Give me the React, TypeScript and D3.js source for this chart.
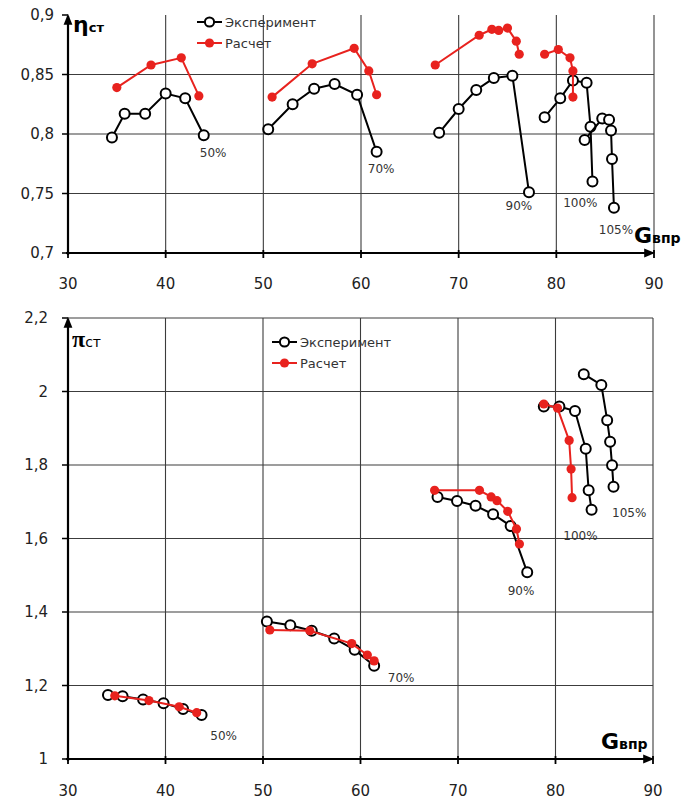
import React from 'react';
import * as d3 from 'd3';

type P = [number, number];

// ---------- tick values ----------
const xTicks = [30, 40, 50, 60, 70, 80, 90];
const etaTicks = [0.7, 0.75, 0.8, 0.85, 0.9];
const piTicks = [1, 1.2, 1.4, 1.6, 1.8, 2, 2.2];

// ---------- efficiency (η ст) vs G впр ----------
const etaExp50: P[] = [[34.5, 0.797], [35.8, 0.817], [37.9, 0.817], [40.0, 0.834], [42.0, 0.830], [43.9, 0.799]];
const etaCalc50: P[] = [[35.0, 0.839], [38.5, 0.858], [41.6, 0.864], [43.4, 0.832]];
const etaExp70: P[] = [[50.5, 0.804], [53.0, 0.825], [55.2, 0.838], [57.3, 0.842], [59.6, 0.833], [61.6, 0.785]];
const etaCalc70: P[] = [[50.9, 0.831], [55.0, 0.859], [59.3, 0.872], [60.8, 0.853], [61.6, 0.833]];
const etaExp90: P[] = [[68.0, 0.801], [70.0, 0.821], [71.8, 0.837], [73.6, 0.847], [75.5, 0.849], [77.2, 0.751]];
const etaCalc90: P[] = [[67.6, 0.858], [72.1, 0.883], [73.4, 0.888], [74.1, 0.887], [75.0, 0.889], [75.9, 0.878], [76.2, 0.867]];
const etaExp100: P[] = [[78.8, 0.814], [80.4, 0.830], [81.7, 0.845], [83.1, 0.843], [83.5, 0.806], [83.7, 0.760]];
const etaCalc100: P[] = [[78.8, 0.867], [80.2, 0.871], [81.4, 0.864], [81.7, 0.853], [81.7, 0.831]];
const etaExp105: P[] = [[82.9, 0.795], [84.7, 0.813], [85.4, 0.812], [85.6, 0.803], [85.7, 0.779], [85.9, 0.738]];

// ---------- pressure ratio (π ст) vs G впр ----------
const piExp50: P[] = [[34.1, 1.174], [35.6, 1.171], [37.7, 1.162], [39.8, 1.152], [41.8, 1.136], [43.7, 1.120]];
const piCalc50: P[] = [[34.8, 1.172], [38.3, 1.159], [41.4, 1.142], [43.2, 1.126]];
const piExp70: P[] = [[50.4, 1.374], [52.8, 1.364], [55.0, 1.349], [57.3, 1.328], [59.4, 1.297], [61.4, 1.254]];
const piCalc70: P[] = [[50.7, 1.351], [54.8, 1.349], [59.1, 1.314], [60.7, 1.283], [61.4, 1.267]];
const piExp90: P[] = [[67.9, 1.713], [69.9, 1.702], [71.8, 1.689], [73.6, 1.666], [75.4, 1.634], [77.1, 1.508]];
const piCalc90: P[] = [[67.6, 1.731], [72.2, 1.731], [73.4, 1.713], [74.0, 1.703], [75.1, 1.674], [76.0, 1.626], [76.3, 1.585]];
const piExp100: P[] = [[78.8, 1.959], [80.4, 1.959], [82.0, 1.947], [83.1, 1.844], [83.4, 1.731], [83.7, 1.678]];
const piCalc100: P[] = [[78.8, 1.966], [80.2, 1.955], [81.4, 1.867], [81.6, 1.789], [81.7, 1.711]];
const piExp105: P[] = [[82.9, 2.047], [84.7, 2.018], [85.3, 1.922], [85.6, 1.863], [85.8, 1.799], [85.95, 1.741]];

// ---------- speed-line labels (anchor in data units) ----------
const speedNames = ['50%', '70%', '90%', '100%', '105%'];
const etaLabelAt: P[] = [[43.5, 0.781], [60.7, 0.767], [74.8, 0.736], [80.7, 0.739], [84.35, 0.716]];
const piLabelAt: P[] = [[44.6, 1.052], [62.8, 1.21], [75.1, 1.446], [80.8, 1.596], [85.8, 1.659]];

const legendNames = ['Эксперимент', 'Расчет'];

const RED = '#e8221e';
const GRID = '#3c3c3c';
const FONT = "'DejaVu Sans', sans-serif";

const fmt = (v: number) => String(v).replace('.', ',');

type PanelProps = {
  x: d3.ScaleLinear<number, number>;
  y: d3.ScaleLinear<number, number>;
  yTicks: number[];
  gridY: number[];
  exp: P[][];
  calc: P[][];
  labelAt: P[];
  legend: [number, number];
  xLabelBaseline: number;
  yLabelRight: number;
  yTitle: React.ReactNode;
  xTitle: React.ReactNode;
};

function Panel(props: PanelProps) {
  const { x, y, yTicks, gridY, exp, calc, labelAt, legend, xLabelBaseline, yLabelRight, yTitle, xTitle } = props;
  const [x0, x1] = x.range();
  const [yb, yt] = y.range();
  const line = d3.line<P>().x(d => x(d[0])).y(d => y(d[1]));
  return (
    <g>
      {/* grid */}
      {gridY.map(v => (
        <line key={'gy' + v} x1={x0} x2={x1} y1={y(v)} y2={y(v)} stroke={GRID} strokeWidth={1.1} />
      ))}
      {xTicks.slice(1).map(v => (
        <line key={'gx' + v} x1={x(v)} x2={x(v)} y1={yt} y2={yb} stroke={GRID} strokeWidth={1.1} />
      ))}
      {/* axes */}
      <line x1={x0} x2={x0} y1={yb + 2} y2={yt + 1} stroke="#000" strokeWidth={2.2} markerEnd="url(#arrow)" />
      <line x1={x0 - 2} x2={x1 - 1} y1={yb} y2={yb} stroke="#000" strokeWidth={2.2} markerEnd="url(#arrow)" />
      {xTicks.map(v => (
        <line key={'tx' + v} x1={x(v)} x2={x(v)} y1={yb - 3} y2={yb + 5} stroke="#000" strokeWidth={1.8} />
      ))}
      {yTicks.map(v => (
        <line key={'ty' + v} x1={x0 - 6} x2={x0} y1={y(v)} y2={y(v)} stroke="#000" strokeWidth={1.5} />
      ))}
      {/* tick labels */}
      {xTicks.map(v => (
        <text key={'lx' + v} x={x(v)} y={xLabelBaseline} textAnchor="middle" fontFamily={FONT} fontSize={15} fill="#222">{v}</text>
      ))}
      {yTicks.map(v => (
        <text key={'ly' + v} x={yLabelRight} y={y(v) + 5} textAnchor="end" fontFamily={FONT} fontSize={15} fill="#222">{fmt(v)}</text>
      ))}
      {/* experiment */}
      {exp.map((s, i) => (
        <g key={'e' + i}>
          <path d={line(s) || ''} fill="none" stroke="#000" strokeWidth={2} />
          {s.map((d, j) => (
            <circle key={j} cx={x(d[0])} cy={y(d[1])} r={5} fill="#fff" stroke="#000" strokeWidth={2} />
          ))}
        </g>
      ))}
      {/* calculation */}
      {calc.map((s, i) => (
        <g key={'c' + i}>
          <path d={line(s) || ''} fill="none" stroke={RED} strokeWidth={2} />
          {s.map((d, j) => (
            <circle key={j} cx={x(d[0])} cy={y(d[1])} r={4.6} fill={RED} />
          ))}
        </g>
      ))}
      {/* speed labels */}
      {labelAt.map((d, i) => (
        <text key={'sl' + i} x={x(d[0])} y={y(d[1])} fontFamily={FONT} fontSize={12} fill="#333">{speedNames[i]}</text>
      ))}
      {/* legend */}
      {legendNames.map((n, i) => {
        const ly = legend[1] + i * 21;
        return (
          <g key={'lg' + i}>
            <line x1={legend[0]} x2={legend[0] + 25} y1={ly} y2={ly} stroke={i === 0 ? '#000' : RED} strokeWidth={2} />
            {i === 0 ? (
              <circle cx={legend[0] + 12.5} cy={ly} r={4.6} fill="#fff" stroke="#000" strokeWidth={2} />
            ) : (
              <circle cx={legend[0] + 12.5} cy={ly} r={4.6} fill={RED} />
            )}
            <text x={legend[0] + 28} y={ly + 5} fontFamily={FONT} fontSize={13} fill="#333">{n}</text>
          </g>
        );
      })}
      {yTitle}
      {xTitle}
    </g>
  );
}

export default function App() {
  const xTop = d3.scaleLinear().domain([30, 90]).range([68, 654]);
  const yTop = d3.scaleLinear().domain([0.7, 0.9]).range([253, 15]);
  const xBot = d3.scaleLinear().domain([30, 90]).range([68, 653]);
  const yBot = d3.scaleLinear().domain([1, 2.2]).range([759, 318]);

  return (
    <svg width={681} height={801} style={{ position: 'absolute', left: 0, top: 0, background: '#fff' }}>
      <defs>
        <marker id="arrow" viewBox="0 0 10 10" refX="8" refY="5" markerWidth="5" markerHeight="5" orient="auto" markerUnits="strokeWidth">
          <path d="M0,1 L10,5 L0,9 Z" fill="#000" />
        </marker>
      </defs>
      <rect x={0} y={0} width={681} height={801} fill="#fff" />
      <Panel
        x={xTop}
        y={yTop}
        yTicks={etaTicks}
        gridY={[0.75, 0.8, 0.85]}
        exp={[etaExp50, etaExp70, etaExp90, etaExp100, etaExp105]}
        calc={[etaCalc50, etaCalc70, etaCalc90, etaCalc100]}
        labelAt={etaLabelAt}
        legend={[197, 22]}
        xLabelBaseline={289}
        yLabelRight={54}
        yTitle={
          <text x={73} y={32} fontFamily={FONT} fontWeight="bold" fill="#000">
            <tspan fontSize={22}>η</tspan>
            <tspan fontSize={13}>ст</tspan>
          </text>
        }
        xTitle={
          <text x={634} y={243} fontFamily={FONT} fontWeight="bold" fill="#000">
            <tspan fontSize={22}>G</tspan>
            <tspan fontSize={14}>впр</tspan>
          </text>
        }
      />
      <Panel
        x={xBot}
        y={yBot}
        yTicks={piTicks}
        gridY={[1.2, 1.4, 1.6, 1.8, 2, 2.2]}
        exp={[piExp50, piExp70, piExp90, piExp100, piExp105]}
        calc={[piCalc50, piCalc70, piCalc90, piCalc100]}
        labelAt={piLabelAt}
        legend={[272, 342]}
        xLabelBaseline={796}
        yLabelRight={48}
        yTitle={
          <text x={72} y={347} fill="#000">
            <tspan fontSize={24} fontFamily="'Liberation Serif', serif" fontWeight="bold">π</tspan>
            <tspan fontSize={14} fontFamily={FONT}>ст</tspan>
          </text>
        }
        xTitle={
          <text x={601} y={749} fontFamily={FONT} fontWeight="bold" fill="#000">
            <tspan fontSize={22}>G</tspan>
            <tspan fontSize={14}>впр</tspan>
          </text>
        }
      />
    </svg>
  );
}
